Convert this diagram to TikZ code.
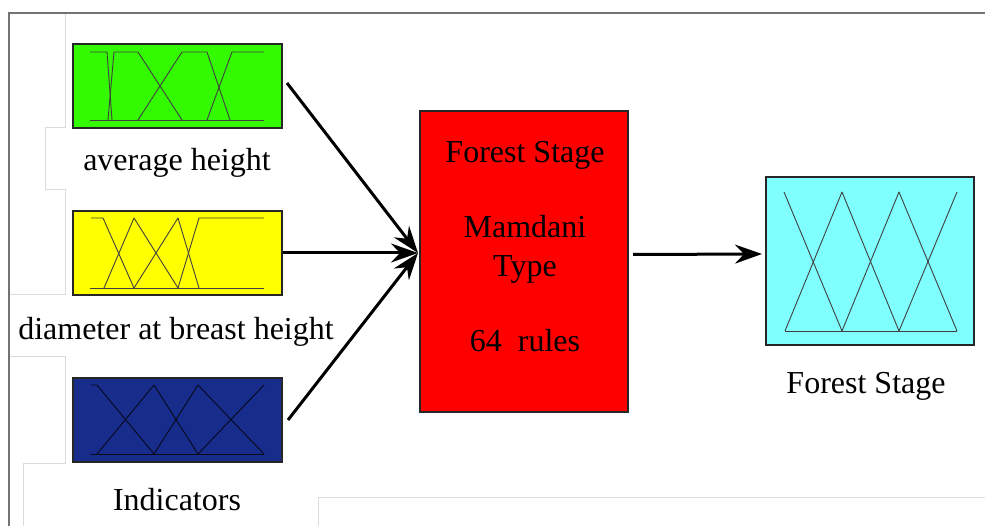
\documentclass[tikz,border=0pt]{standalone}
\usepackage{fontspec}
\setmainfont{Liberation Serif}
\usetikzlibrary{arrows.meta}
\definecolor{mfgreen}{RGB}{51,250,0}
\definecolor{mfyellow}{RGB}{255,255,0}
\definecolor{mfblue}{RGB}{24,44,140}
\definecolor{mfcyan}{RGB}{128,255,255}
\definecolor{mfred}{RGB}{255,0,0}
\tikzset{
  mfbox/.style={draw=black!85, line width=2pt, rectangle, inner sep=0pt},
  mfline/.style={draw=black!75, line width=0.9pt, line join=round},
  lbl/.style={anchor=base, inner sep=0pt, font=\fontsize{32}{38}\selectfont},
  arr/.style={draw=black, line width=3pt, -{Stealth[length=27pt,width=19pt,inset=9pt]}},
  faint/.style={draw=black!14, line width=1pt},
  frame/.style={draw=black!55, line width=2pt}
}
\begin{document}
\begin{tikzpicture}[x=1pt,y=-1pt]
\useasboundingbox (0,0) rectangle (985,526);
\fill[white] (0,0) rectangle (985,526);
% frame and faint background lines
\draw[faint] (65,13) -- (65,128) -- (45,128) -- (45,190) -- (65,190) -- (65,295) -- (9,295);
\draw[faint] (9,357) -- (65,357) -- (65,463) -- (23,463) -- (23,526);
\draw[faint] (318,526) -- (318,497) -- (985,497);
\draw[frame] (9,526) -- (9,13) -- (985,13);
% input boxes
\node[mfbox, fill=mfgreen, minimum width=209pt, minimum height=84pt] (g) at (177.5,86) {};
\node[mfbox, fill=mfyellow, minimum width=209pt, minimum height=84pt] (y) at (177.5,253) {};
\node[mfbox, fill=mfblue, minimum width=209pt, minimum height=84pt] (b) at (177.5,420) {};
% fis box
\node[mfbox, fill=mfred, minimum width=208pt, minimum height=301pt] (r) at (524,261.5) {};
% output box
\node[mfbox, fill=mfcyan, minimum width=208pt, minimum height=168pt] (c) at (870,261) {};
% membership functions: green
\draw[mfline] (90,120) -- (264,120);
\draw[mfline] (90,52) -- (107,52) -- (112,120);
\draw[mfline] (108,120) -- (114,52) -- (138,52) -- (182,120);
\draw[mfline] (138,120) -- (182,52) -- (207,52) -- (230,120);
\draw[mfline] (207,120) -- (232,52) -- (264,52);
% yellow
\draw[mfline] (90,288) -- (264,288);
\draw[mfline] (91,218) -- (103,218) -- (134,288);
\draw[mfline] (104,288) -- (134,218) -- (178,288);
\draw[mfline] (134,288) -- (178,218) -- (199,288);
\draw[mfline] (178,288) -- (199,218) -- (264,218);
% blue
\draw[mfline, draw=black!80!mfblue] (91,454) -- (264,454);
\draw[mfline, draw=black!80!mfblue] (91,385) -- (97,385) -- (154,454);
\draw[mfline, draw=black!80!mfblue] (97,454) -- (154,385) -- (198,454);
\draw[mfline, draw=black!80!mfblue] (154,454) -- (198,385) -- (264,454);
\draw[mfline, draw=black!80!mfblue] (198,454) -- (264,385);
% cyan
\draw[mfline] (785,331) -- (957,331);
\draw[mfline] (784,192) -- (842,331);
\draw[mfline] (785,331) -- (842,192) -- (899,331);
\draw[mfline] (842,331) -- (899,192) -- (957,331);
\draw[mfline] (899,331) -- (957,192);
% labels
\node[lbl] (lg) at (177,171) {average height};
\node[lbl] (ly) at (176,340) {diameter at breast height};
\node[lbl] (lb) at (177,510) {Indicators};
\node[lbl] (lc) at (866,393) {Forest Stage};
\node[lbl] (t1) at (525,163) {Forest Stage};
\node[lbl] (t2) at (525,238) {Mamdani};
\node[lbl] (t3) at (525,277) {Type};
\node[lbl] (t4) at (525,352) {64\ \ rules};
% arrows
\coordinate (tip) at (418,253);
\draw[arr] ([xshift=4pt,yshift=3pt]g.east) -- (tip);
\draw[arr] (y.east) -- (tip);
\draw[arr] ([xshift=5pt]b.east) -- (tip);
\draw[arr] ([xshift=4pt,yshift=7pt]r.east) -- ([xshift=-3pt,yshift=7pt]c.west);
\end{tikzpicture}
\end{document}
